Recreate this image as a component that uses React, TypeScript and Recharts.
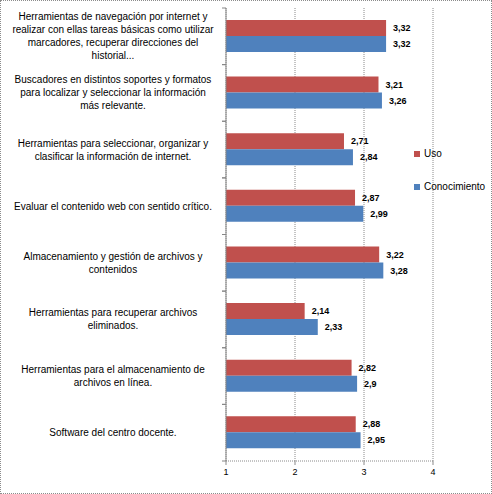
import React from 'react';
import { BarChart, Bar, XAxis, YAxis, CartesianGrid, Legend, LabelList } from 'recharts';

const categories = [
  'Herramientas de navegación por internet y\nrealizar con ellas tareas básicas como utilizar\nmarcadores, recuperar direcciones del\nhistorial...',
  'Buscadores en distintos soportes y formatos\npara localizar y seleccionar la información\nmás relevante.',
  'Herramientas para seleccionar, organizar y\nclasificar la información de internet.',
  'Evaluar el contenido web con sentido crítico.',
  'Almacenamiento y gestión de archivos y\ncontenidos',
  'Herramientas para recuperar archivos\neliminados.',
  'Herramientas para el almacenamiento de\narchivos en línea.',
  'Software del centro docente.',
];
const uso = [3.32, 3.21, 2.71, 2.87, 3.22, 2.14, 2.82, 2.88];
const conocimiento = [3.32, 3.26, 2.84, 2.99, 3.28, 2.33, 2.9, 2.95];
const xTicks = [1, 2, 3, 4];
const legendOrder = ['Uso', 'Conocimiento'];

const data = categories.map((name, i) => ({ name, uso: uso[i], conocimiento: conocimiento[i] }));

const W = 492;
const H = 494;
const MARGIN = { top: 8, right: 59, bottom: 3, left: 0 };
const X_AXIS_H = 30;
const Y_AXIS_W = 226;
const HALF_BAND = (H - MARGIN.top - MARGIN.bottom - X_AXIS_H) / categories.length / 2;
const FONT = '"Liberation Sans", Arial, sans-serif';
const LINE_H = 13;

const fmt = (v: any) => String(v).replace('.', ',');

const CategoryTick = (props: any) => {
  const { y, payload } = props;
  const lines = String(payload.value).split('\n');
  const startY = y - ((lines.length - 1) * LINE_H) / 2;
  const axisX = MARGIN.left + Y_AXIS_W;
  return (
    <g>
      <line x1={axisX - 4} x2={axisX} y1={y - HALF_BAND} y2={y - HALF_BAND} stroke="#868686" />
      <line x1={axisX - 4} x2={axisX} y1={y + HALF_BAND} y2={y + HALF_BAND} stroke="#868686" />
      <text x={113} y={startY} textAnchor="middle" fontFamily={FONT} fontSize={10} fill="#000">
        {lines.map((l, i) => (
          <tspan key={i} x={113} y={startY + i * LINE_H} dy="0.355em">
            {l}
          </tspan>
        ))}
      </text>
    </g>
  );
};

const renderLegend = (props: any) => {
  const items = [...(props.payload || [])].sort(
    (a: any, b: any) => legendOrder.indexOf(a.value) - legendOrder.indexOf(b.value)
  );
  return (
    <div style={{ position: 'relative', width: 0, height: 0 }}>
      {items.map((entry: any, i: number) => (
        <div
          key={i}
          style={{
            position: 'absolute',
            left: 414,
            top: 147 + i * 33,
            whiteSpace: 'nowrap',
            fontFamily: FONT,
            fontSize: 10,
            color: '#000',
            display: 'flex',
            alignItems: 'center',
            lineHeight: '14px',
          }}
        >
          <span style={{ display: 'inline-block', width: 6, height: 6, background: entry.color, marginRight: 4 }} />
          <span>{entry.value}</span>
        </div>
      ))}
    </div>
  );
};

export default function App() {
  return (
    <div style={{ position: 'absolute', left: 0, top: 0, width: W, height: H, overflow: 'hidden', background: '#fff' }}>
      <BarChart
        width={W}
        height={H}
        data={data}
        layout="vertical"
        margin={MARGIN}
        barCategoryGap="21%"
        barGap={0}
      >
        <CartesianGrid horizontal={false} vertical={true} stroke="#8a8a8a" strokeDasharray="1 1" />
        <XAxis
          type="number"
          domain={[1, 4]}
          ticks={xTicks}
          height={X_AXIS_H}
          axisLine={{ stroke: '#8a8a8a', strokeDasharray: '1 1' }}
          tickLine={{ stroke: '#8a8a8a' }}
          tickSize={4}
          tickMargin={4}
          tick={{ fontFamily: FONT, fontSize: 9, fill: '#000' }}
          allowDataOverflow
        />
        <YAxis
          type="category"
          dataKey="name"
          width={Y_AXIS_W}
          axisLine={{ stroke: '#868686' }}
          tickLine={false}
          tick={<CategoryTick />}
          interval={0}
        />
        <Legend
          content={renderLegend}
          layout="vertical"
          align="right"
          verticalAlign="top"
          wrapperStyle={{ left: 0, top: 0, right: 'auto', bottom: 'auto', width: 0, height: 0 }}
        />
        <Bar dataKey="uso" name="Uso" fill="#C0504D" isAnimationActive={false}>
          <LabelList dataKey="uso" position="right" offset={7} formatter={fmt} style={{ fontFamily: FONT, fontSize: 9, fontWeight: 'bold', fill: '#000' }} />
        </Bar>
        <Bar dataKey="conocimiento" name="Conocimiento" fill="#4F81BD" isAnimationActive={false}>
          <LabelList dataKey="conocimiento" position="right" offset={7} formatter={fmt} style={{ fontFamily: FONT, fontSize: 9, fontWeight: 'bold', fill: '#000' }} />
        </Bar>
      </BarChart>
      <div
        style={{
          position: 'absolute',
          left: 0,
          top: 0,
          width: W - 2,
          height: H - 2,
          border: '1px dotted #8c8c8c',
          pointerEvents: 'none',
        }}
      />
    </div>
  );
}
